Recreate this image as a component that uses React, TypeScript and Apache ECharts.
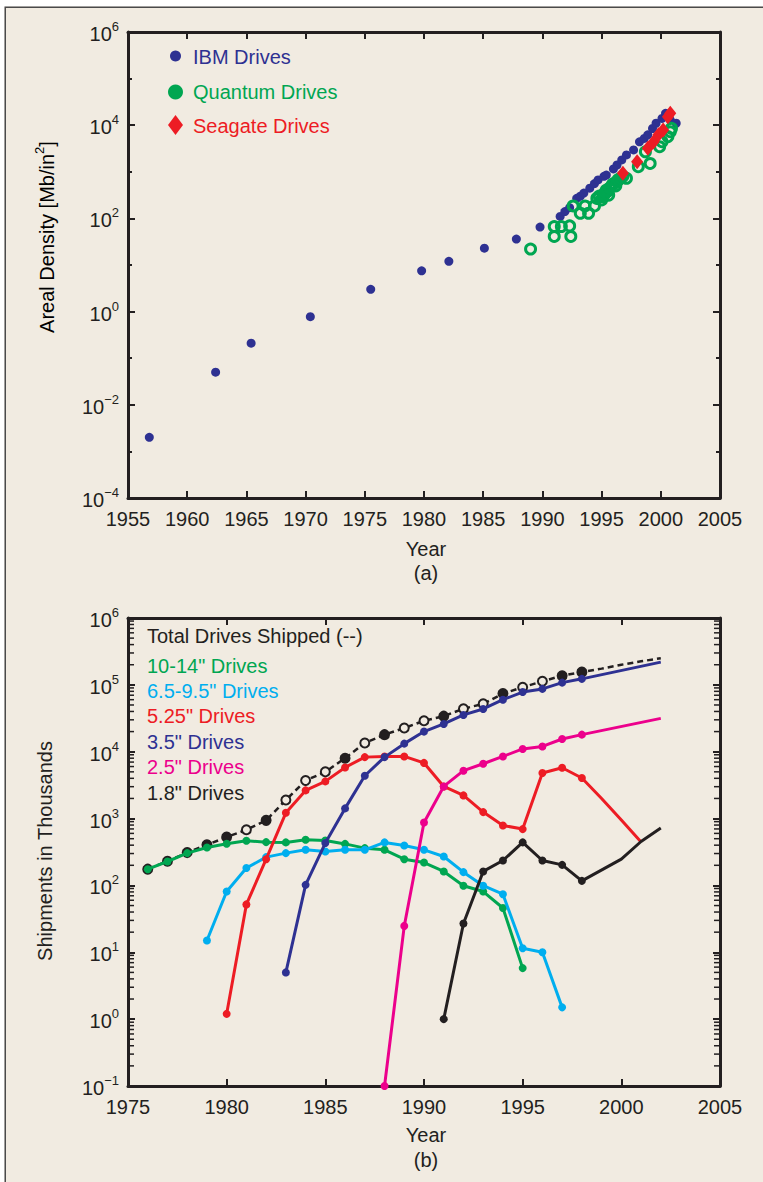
import React, { useEffect, useRef } from "react";
import * as echarts from "echarts";

const INK = "#231f20";
const PAPER = "#f1ebe1";
const FONT = "'Liberation Sans', Arial, Helvetica, sans-serif";

const C_IBM = "#2e3192";
const C_QUANTUM = "#00a651";
const C_SEAGATE = "#ed1c24";
const C_1014 = "#00a651";
const C_6595 = "#00aeef";
const C_525 = "#ed1c24";
const C_35 = "#2e3192";
const C_25 = "#ec008c";
const C_18 = "#231f20";

// ---------- Panel (a): areal density [Mb/in^2] ----------
const ibmYear = [1956.8, 1962.4, 1965.4, 1970.4, 1975.5, 1979.8, 1982.1, 1985.1, 1987.8, 1989.8, 1991.5, 1991.9, 1992.3, 1992.9, 1993.2, 1993.5, 1994.0, 1994.4, 1994.7, 1995.2, 1995.4, 1996.0, 1996.3, 1996.7, 1997.1, 1997.7, 1998.2, 1998.6, 1998.9, 1999.3, 1999.6, 2000.1, 2000.4, 2000.8, 2001.3];
const ibmDensity = [0.002, 0.05, 0.21, 0.78, 3.0, 7.5, 12, 23, 36, 65, 110, 140, 170, 270, 300, 350, 445, 560, 670, 800, 850, 1150, 1400, 1800, 2300, 2950, 4400, 5200, 6200, 8500, 11000, 14000, 18000, 13000, 11000];

const quantumYear = [1989.0, 1991.0, 1991.0, 1991.6, 1992.3, 1992.4, 1992.6, 1993.2, 1993.6, 1993.9, 1994.4, 1994.6, 1994.8, 1995.0, 1995.1, 1995.2, 1995.3, 1995.4, 1995.5, 1995.6, 1995.7, 1995.9, 1996.0, 1996.2, 1996.3, 1996.4, 1996.6, 1996.8, 1997.1, 1998.1, 1998.7, 1999.1, 1999.9, 2000.1, 2000.6, 2000.8, 2000.9];
const quantumDensity = [22, 67, 41, 67, 69, 41, 185, 129, 185, 129, 185, 268, 300, 249, 290, 316, 360, 405, 380, 316, 450, 522, 560, 500, 617, 680, 726, 800, 726, 1290, 2690, 1510, 3450, 4440, 5690, 7240, 8540];

const seagateYear = [1996.8, 1998.0, 1998.9, 1999.4, 1999.8, 2000.2, 2000.6, 2000.8];
const seagateDensity = [930, 1650, 3200, 4400, 6200, 7900, 15200, 18000];

// ---------- Panel (b): shipments in thousands ----------
const shipYears = [1976, 1977, 1978, 1979, 1980, 1981, 1982, 1983, 1984, 1985, 1986, 1987, 1988, 1989, 1990, 1991, 1992, 1993, 1994, 1995, 1996, 1997, 1998, 1999, 2000, 2001, 2002];
const totalShipped = [175, 230, 310, 405, 528, 680, 940, 1900, 3700, 5000, 8000, 13500, 18000, 22600, 29000, 34000, 44000, 52000, 74000, 92000, 113000, 137000, 155000, 175000, 200000, 225000, 250000];
const totalFilledYears = [1976, 1977, 1978, 1979, 1980, 1982, 1986, 1988, 1991, 1994, 1997, 1998];
const drives1014 = [175, 228, 304, 370, 420, 465, 444, 440, 482, 470, 418, 361, 341, 247, 220, 162, 99, 81, 46, 5.8, null, null, null, null, null, null, null];
const drives6595 = [null, null, null, 15, 81, 182, 265, 304, 341, 322, 341, 341, 440, 396, 341, 271, 158, 99, 74, 11.5, 10, 1.5, null, null, null, null, null];
const drives525 = [null, null, null, null, 1.2, 52, 247, 1220, 2640, 3600, 5820, 8300, 8500, 8500, 6800, 3025, 2220, 1250, 789, 696, 4800, 5750, 4040, 2000, 950, 445, null];
const drives35 = [null, null, null, null, null, null, null, 5, 102, 430, 1420, 4375, 8300, 13200, 20000, 26000, 35500, 43600, 60000, 78000, 87000, 108000, 123000, null, null, null, 219000];
const drives25 = [null, null, null, null, null, null, null, null, null, null, null, null, 0.1, 24.8, 875, 3025, 5200, 6600, 8500, 11000, 12000, 15500, 18000, null, null, null, 31500];
const drives18 = [null, null, null, null, null, null, null, null, null, null, null, null, null, null, null, 1.0, 27, 162, 236, 440, 236, 203, 117, null, 247, 454, 720];
const lastMarkedYear = 1998;

const lg = (v: number) => Math.log10(v);
const expText = (v: number) => (v < 0 ? "\u2212" + Math.abs(v) : String(v));

const supRich = {
  b: { fontSize: 20, fontFamily: FONT, color: INK, lineHeight: 24, verticalAlign: "bottom" },
  s: { fontSize: 13, fontFamily: FONT, color: INK, lineHeight: 12, verticalAlign: "top" },
};

function xAxisDef(gridIndex: number, min: number, max: number, position: string, showLabel: boolean) {
  return {
    type: "value",
    gridIndex,
    min,
    max,
    interval: 5,
    position,
    axisLine: { show: true, onZero: false, lineStyle: { color: INK, width: 3 } },
    axisTick: { show: true, inside: true, length: 7, lineStyle: { color: INK, width: 2 } },
    axisLabel: {
      show: showLabel,
      color: INK,
      fontSize: 20,
      fontFamily: FONT,
      margin: 11,
      formatter: (v: number) => String(v),
    },
    splitLine: { show: false },
  };
}

function yAxisDef(gridIndex: number, min: number, max: number, interval: number, position: string, showLabel: boolean, minorSplit: number) {
  return {
    type: "value",
    gridIndex,
    min,
    max,
    interval,
    position,
    axisLine: { show: true, onZero: false, lineStyle: { color: INK, width: 3 } },
    axisTick: { show: true, inside: true, length: 7, lineStyle: { color: INK, width: 2 } },
    minorTick: { show: minorSplit > 0, splitNumber: minorSplit || 2, length: 4, lineStyle: { color: INK, width: 2 } },
    axisLabel: {
      show: showLabel,
      margin: 9,
      formatter: (v: number) => `{b|10}{s|${expText(Math.round(v))}}`,
      rich: supRich,
    },
    splitLine: { show: false },
    minorSplitLine: { show: false },
  };
}

// log-spaced minor tick positions (2..9 within each decade) for panel (b)
const logMinorTicks: number[] = [];
for (let d = -1; d < 6; d++) {
  for (let k = 2; k <= 9; k++) logMinorTicks.push(d + Math.log10(k));
}

function lineData(values: (number | null)[]) {
  const out: any[] = [];
  shipYears.forEach((yr, i) => {
    const v = values[i];
    if (v == null) return;
    out.push({ value: [yr, lg(v)], symbol: yr > lastMarkedYear ? "none" : "circle" });
  });
  return out;
}

function lineSeries(name: string, values: (number | null)[], color: string, z: number) {
  return {
    type: "line",
    name,
    xAxisIndex: 2,
    yAxisIndex: 2,
    data: lineData(values),
    symbolSize: 8,
    showSymbol: true,
    lineStyle: { color, width: 3 },
    itemStyle: { color, opacity: 1 },
    z,
  };
}

const totalData = shipYears.map((yr, i) => {
  const item: any = { value: [yr, lg(totalShipped[i])] };
  if (yr > lastMarkedYear) item.symbol = "none";
  else if (totalFilledYears.includes(yr)) item.itemStyle = { color: INK, borderColor: INK };
  return item;
});

const textEl = (text: string, x: number, y: number, fill: string, align = "left") => ({
  type: "text",
  x,
  y,
  silent: true,
  style: {
    text,
    fill,
    fontSize: 20,
    fontFamily: FONT,
    align,
    textAlign: align,
    verticalAlign: "middle",
    textVerticalAlign: "middle",
  },
});

const option: any = {
  animation: false,
  backgroundColor: PAPER,
  textStyle: { fontFamily: FONT },
  grid: [
    { left: 128, top: 32, width: 592, height: 466, containLabel: false, outerBoundsMode: "none" },
    { left: 128, top: 618, width: 592, height: 468, containLabel: false, outerBoundsMode: "none" },
  ],
  xAxis: [
    xAxisDef(0, 1955, 2005, "bottom", true),
    xAxisDef(0, 1955, 2005, "top", false),
    xAxisDef(1, 1975, 2005, "bottom", true),
    xAxisDef(1, 1975, 2005, "top", false),
  ],
  yAxis: [
    yAxisDef(0, -4, 6, 2, "left", true, 2),
    yAxisDef(0, -4, 6, 2, "right", false, 2),
    yAxisDef(1, -1, 6, 1, "left", true, 0),
    yAxisDef(1, -1, 6, 1, "right", false, 0),
  ],
  series: [
    {
      type: "custom",
      name: "minor ticks",
      xAxisIndex: 2,
      yAxisIndex: 2,
      silent: true,
      data: logMinorTicks.map((v) => [1975, v]),
      encode: { x: 0, y: 1 },
      z: 1,
      renderItem: (params: any, api: any) => {
        const y = api.coord([1975, api.value(1)])[1];
        const cs = params.coordSys;
        const xl = cs.x;
        const xr = cs.x + cs.width;
        return {
          type: "group",
          children: [
            { type: "line", shape: { x1: xl + 1, y1: y, x2: xl + 6, y2: y }, style: { stroke: INK, lineWidth: 1.5 } },
            { type: "line", shape: { x1: xr - 6, y1: y, x2: xr - 1, y2: y }, style: { stroke: INK, lineWidth: 1.5 } },
          ],
        };
      },
    },
    {
      type: "scatter",
      name: "IBM Drives",
      xAxisIndex: 0,
      yAxisIndex: 0,
      data: ibmYear.map((x, i) => [x, lg(ibmDensity[i])]),
      symbol: "circle",
      symbolSize: 9,
      itemStyle: { color: C_IBM, opacity: 1 },
      z: 3,
    },
    {
      type: "scatter",
      name: "Quantum Drives",
      xAxisIndex: 0,
      yAxisIndex: 0,
      data: quantumYear.map((x, i) => [x, lg(quantumDensity[i])]),
      symbol: "circle",
      symbolSize: 10,
      itemStyle: { color: "rgba(0,0,0,0)", borderColor: C_QUANTUM, borderWidth: 3, opacity: 1 },
      z: 4,
    },
    {
      type: "scatter",
      name: "Seagate Drives",
      xAxisIndex: 0,
      yAxisIndex: 0,
      data: seagateYear.map((x, i) => [x, lg(seagateDensity[i])]),
      symbol: "diamond",
      symbolSize: [12, 15],
      itemStyle: { color: C_SEAGATE, opacity: 1 },
      z: 5,
    },
    {
      type: "line",
      name: "Total Drives Shipped",
      xAxisIndex: 2,
      yAxisIndex: 2,
      data: totalData,
      symbol: "circle",
      symbolSize: 9,
      lineStyle: { color: INK, width: 2.5, type: [6, 4] },
      itemStyle: { color: PAPER, borderColor: INK, borderWidth: 2, opacity: 1 },
      z: 2,
    },
    lineSeries('10-14" Drives', drives1014, C_1014, 3),
    lineSeries('6.5-9.5" Drives', drives6595, C_6595, 4),
    lineSeries('5.25" Drives', drives525, C_525, 5),
    lineSeries('3.5" Drives', drives35, C_35, 6),
    lineSeries('2.5" Drives', drives25, C_25, 7),
    lineSeries('1.8" Drives', drives18, C_18, 8),
  ],
  graphic: [
    { type: "rect", silent: true, shape: { x: 0, y: 0, width: 763, height: 6.5 }, style: { fill: "#ffffff" } },
    { type: "rect", silent: true, shape: { x: 0, y: 0, width: 4.5, height: 1182 }, style: { fill: "#ffffff" } },
    { type: "polyline", silent: true, shape: { points: [[5.25, 1182], [5.25, 7.25], [763, 7.25]] }, style: { fill: null, stroke: "#4a4a4a", lineWidth: 1.5 } },
    // legend (a)
    { type: "circle", silent: true, shape: { cx: 175.5, cy: 56, r: 5.5 }, style: { fill: C_IBM } },
    { type: "circle", silent: true, shape: { cx: 175.5, cy: 92, r: 7.5 }, style: { fill: C_QUANTUM } },
    { type: "polygon", silent: true, shape: { points: [[175.5, 115], [183, 125], [175.5, 135], [168, 125]] }, style: { fill: C_SEAGATE } },
    textEl("IBM Drives", 193, 57, C_IBM),
    textEl("Quantum Drives", 193, 92, C_QUANTUM),
    textEl("Seagate Drives", 193, 126, C_SEAGATE),
    // legend (b)
    textEl("Total Drives Shipped (--)", 147, 636, INK),
    textEl('10-14" Drives', 147, 666, C_1014),
    textEl('6.5-9.5" Drives', 147, 691, C_6595),
    textEl('5.25" Drives', 147, 716, C_525),
    textEl('3.5" Drives', 147, 742, C_35),
    textEl('2.5" Drives', 147, 767, C_25),
    textEl('1.8" Drives', 147, 793, C_18),
    // axis titles
    textEl("Year", 426, 549, INK, "center"),
    textEl("(a)", 426, 573, INK, "center"),
    textEl("Year", 426, 1135, INK, "center"),
    textEl("(b)", 426, 1160, INK, "center"),
    {
      type: "text",
      x: 45,
      y: 237,
      rotation: Math.PI / 2,
      silent: true,
      style: {
        text: "{b|Areal Density [Mb/in}{s|2}{b|]}",
        rich: supRich,
        align: "center",
        textAlign: "center",
        verticalAlign: "middle",
        textVerticalAlign: "middle",
      },
    },
    {
      type: "text",
      x: 45,
      y: 851,
      rotation: Math.PI / 2,
      silent: true,
      style: {
        text: "Shipments in Thousands",
        fill: INK,
        fontSize: 20,
        fontFamily: FONT,
        align: "center",
        textAlign: "center",
        verticalAlign: "middle",
        textVerticalAlign: "middle",
      },
    },
  ],
};

export default function App() {
  const ref = useRef<HTMLDivElement>(null);
  useEffect(() => {
    const el = ref.current;
    if (!el) return;
    const chart = echarts.init(el, null, { renderer: "svg" });
    chart.setOption(option);
    return () => chart.dispose();
  }, []);
  return <div ref={ref} style={{ position: "absolute", left: 0, top: 0, width: 763, height: 1182 }} />;
}
